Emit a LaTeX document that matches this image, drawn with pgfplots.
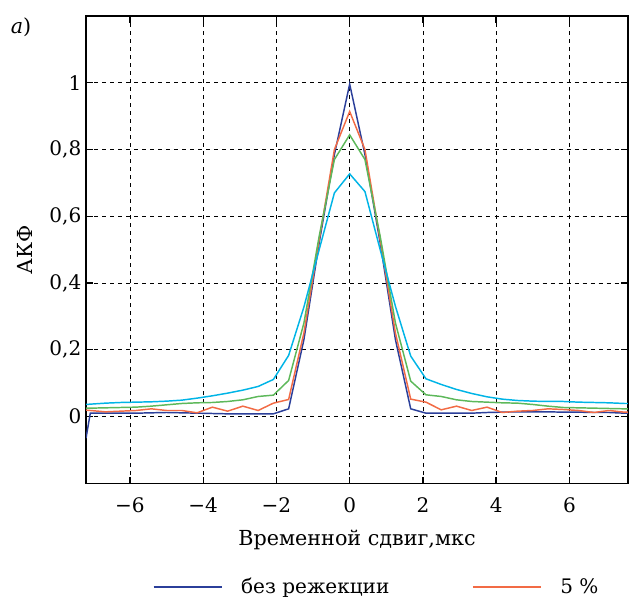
\documentclass[border=0pt]{standalone}
\usepackage{fontspec}
\setmainfont{DejaVu Serif}
\usepackage{pgfplots}
\usepackage{pgfplotstable}
\pgfplotsset{compat=1.18}

\definecolor{cblue}{HTML}{2B3F9A}
\definecolor{corange}{HTML}{F26B45}
\definecolor{cgreen}{HTML}{5DB85A}
\definecolor{ccyan}{HTML}{00B4E6}

% x, без режекции, 5 %, green, cyan
\pgfplotstableread{
x       b       o       g       c
-7.2   -0.065   0.019   0.025   0.036
-7.083  0.010   0.018   0.025   0.037
-6.667  0.010   0.014   0.026   0.040
-6.25   0.010   0.016   0.027   0.042
-5.833  0.010   0.018   0.028   0.043
-5.417  0.011   0.023   0.031   0.044
-5      0.012   0.018   0.035   0.046
-4.583  0.011   0.018   0.039   0.049
-4.167  0.010   0.011   0.041   0.055
-3.75   0.009   0.028   0.042   0.062
-3.333  0.008   0.016   0.045   0.070
-2.917  0.008   0.031   0.050   0.079
-2.5    0.008   0.018   0.060   0.090
-2.083  0.008   0.040   0.064   0.111
-1.667  0.023   0.051   0.108   0.183
-1.25   0.23    0.25    0.28    0.328
-0.833  0.52    0.53    0.54    0.50
-0.417  0.785   0.80    0.77    0.67
0       0.996   0.914   0.844   0.727
0.417   0.785   0.80    0.77    0.674
0.833   0.52    0.53    0.54    0.50
1.25    0.23    0.25    0.28    0.33
1.667   0.023   0.052   0.106   0.181
2.083   0.010   0.043   0.065   0.113
2.5     0.010   0.020   0.060   0.096
2.917   0.010   0.031   0.050   0.081
3.333   0.010   0.018   0.045   0.069
3.75    0.012   0.028   0.043   0.059
4.167   0.013   0.012   0.041   0.052
4.583   0.014   0.016   0.040   0.048
5       0.014   0.018   0.036   0.046
5.417   0.014   0.023   0.031   0.045
5.833   0.013   0.021   0.027   0.045
6.25    0.013   0.018   0.026   0.043
6.667   0.012   0.012   0.025   0.042
7.083   0.012   0.018   0.024   0.041
7.5     0.010   0.013   0.023   0.039
7.6     0.010   0.013   0.023   0.039
}\acf

\begin{document}
\begin{tikzpicture}
\begin{axis}[
    scale only axis,
    width=406pt, height=350pt,
    xmin=-7.2, xmax=7.6,
    ymin=-0.2, ymax=1.2,
    xtick={-6,-4,-2,0,2,4,6},
    xticklabels={−6,−4,−2,0,2,4,6},
    ytick={0,0.2,0.4,0.6,0.8,1},
    yticklabels={0,{0,2},{0,4},{0,6},{0,8},1},
    grid=major,
    major grid style={black, dashed, line width=0.5pt},
    axis line style={black, line width=0.8pt},
    major tick length=5pt,
    tick style={black, line width=1pt},
    tick label style={font=\fontsize{15}{17}\selectfont},
    xticklabel style={yshift=-7pt},
    label style={font=\fontsize{15.5}{17}\selectfont},
    xlabel style={yshift=-6pt},
    ylabel style={yshift=6pt},
    xlabel={Временной сдвиг,мкс},
    ylabel={АКФ},
    legend style={at={(0.537,-0.222)}, anchor=center, draw=none,
        font=\fontsize{15}{17}\selectfont,
        /tikz/every odd column/.append style={column sep=12pt},
        /tikz/every even column/.append style={column sep=60pt}},
    legend columns=2,
    legend image code/.code={\draw[#1] (0pt,0pt) -- (51pt,0pt);},
    every axis plot/.append style={line width=1.1pt},
]
\addplot[cblue] table[x=x, y=b] {\acf};
\addlegendentry{без режекции}
\addplot[corange] table[x=x, y=o] {\acf};
\addlegendentry{5 \%}
\addplot[cgreen, forget plot] table[x=x, y=g] {\acf};
\addplot[ccyan, forget plot] table[x=x, y=c] {\acf};
\coordinate (lab) at (rel axis cs:-0.12,0.975);
\coordinate (tl) at (rel axis cs:-0.1587,1.0343);
\coordinate (br) at (rel axis cs:1.0185,-0.2425);
\end{axis}
\node[font=\fontsize{15.5}{17}\selectfont] at (lab) {\textit{a})};
\pgfresetboundingbox
\path (tl) rectangle (br);
\end{tikzpicture}
\end{document}
